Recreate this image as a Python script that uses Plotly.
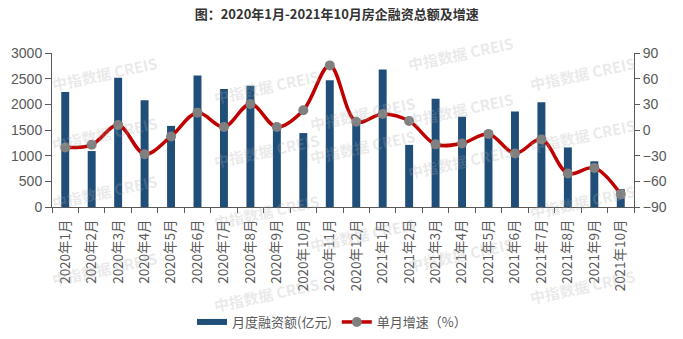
import plotly.graph_objects as go

months = ["2020年1月", "2020年2月", "2020年3月", "2020年4月", "2020年5月", "2020年6月",
          "2020年7月", "2020年8月", "2020年9月", "2020年10月", "2020年11月", "2020年12月",
          "2021年1月", "2021年2月", "2021年3月", "2021年4月", "2021年5月", "2021年6月",
          "2021年7月", "2021年8月", "2021年9月", "2021年10月"]
amount = [2240, 1090, 2520, 2080, 1580, 2560, 2300, 2360, 1580, 1440, 2470, 1700,
          2680, 1210, 2110, 1760, 1490, 1860, 2040, 1160, 890, 350]
growth = [-20.4, -17.3, 5.8, -28.2, -7.5, 20.3, 3.5, 30.5, 3.5, 23.1, 75.5, 9.7,
          18.7, 10.5, -16.8, -15.7, -4.7, -27.4, -11.0, -50.9, -44.3, -75.2]

title_text = "图：2020年1月-2021年10月房企融资总额及增速"
bar_name = "月度融资额(亿元)"
line_name = "单月增速（%）"
watermark = "中指数据 CREIS"

BAR_COLOR = "#1f4e79"
LINE_COLOR = "#c00000"
MARK_COLOR = "#808080"
AXIS_COLOR = "#595959"
FONT = "Liberation Sans, Noto Sans CJK SC, sans-serif"
CJK = "Noto Sans CJK SC, sans-serif"

fig = go.Figure()
fig.add_trace(go.Bar(x=months, y=amount, name=bar_name, marker_color=BAR_COLOR,
                     marker_line_width=0, width=0.3, showlegend=False, yaxis="y"))
# legend stand-in for the bar series (wide flat swatch as in reference)
fig.add_trace(go.Scatter(x=[None], y=[None], mode="lines", name=bar_name,
                         line=dict(color=BAR_COLOR, width=6), yaxis="y"))
fig.add_trace(go.Scatter(x=months, y=growth, name=line_name, mode="lines+markers",
                         line=dict(color=LINE_COLOR, width=3.5, shape="spline", smoothing=1),
                         marker=dict(color=MARK_COLOR, size=10), yaxis="y2"))

# watermark text (light, rotated)
W, H = 683, 339
L, R, T, B = 52.3, 634.3, 53.3, 206.7
wm_pts = [(48, 50), (48, 133), (48, 215), (48, 292),
          (210, 63), (210, 150), (210, 235), (210, 318),
          (363, 90), (363, 170), (363, 258),
          (518, 30), (518, 110), (518, 185), (518, 278),
          (640, 50), (640, 135), (640, 225), (640, 310)]
annotations = []
for px, py in wm_pts:
    annotations.append(dict(x=(px - L) / (R - L), y=(B - py) / (B - T), xref="paper", yref="paper",
                            text=watermark, showarrow=False, textangle=-12,
                            font=dict(family=CJK, size=15, color="rgba(170,170,170,0.25)", weight="bold")))

fig.update_layout(
    width=W, height=H,
    margin=dict(l=L, r=W - R, t=T, b=H - B, pad=0, autoexpand=False),
    paper_bgcolor="white", plot_bgcolor="white",
    title=dict(text="<b>" + title_text + "</b>", x=0.493, xanchor="center", y=1 - 14 / H,
               yanchor="middle", font=dict(family=CJK, size=13, color="#333333")),
    font=dict(family=FONT, color=AXIS_COLOR),
    xaxis=dict(type="category", range=[-0.5, len(months) - 0.5], showline=True,
               linecolor=AXIS_COLOR, linewidth=1,
               ticks="outside", tickson="boundaries", ticklen=5, tickcolor=AXIS_COLOR,
               tickangle=-90, ticklabelstandoff=6,
               tickfont=dict(family=CJK, size=13.5, color=AXIS_COLOR),
               showgrid=False, automargin=False),
    yaxis=dict(range=[0, 3000], dtick=500, showline=True, linecolor=AXIS_COLOR, linewidth=1,
               ticks="outside", ticklen=6, tickcolor=AXIS_COLOR, showgrid=False, zeroline=False,
               tickfont=dict(family=FONT, size=14, color=AXIS_COLOR), automargin=False),
    yaxis2=dict(range=[-90, 90], dtick=30, overlaying="y", side="right", showline=True,
                linecolor=AXIS_COLOR, linewidth=1, ticks="outside", ticklen=5,
                tickcolor=AXIS_COLOR, showgrid=False, zeroline=False,
                tickfont=dict(family=FONT, size=14, color=AXIS_COLOR), automargin=False),
    legend=dict(orientation="h", xref="container", x=332 / W, xanchor="center",
                yref="container", y=(H - 322) / H, yanchor="middle",
                font=dict(family=CJK, size=13, color=AXIS_COLOR),
                bgcolor="rgba(0,0,0,0)", itemclick=False),
    annotations=annotations,
)

fig.write_html("out.html")
